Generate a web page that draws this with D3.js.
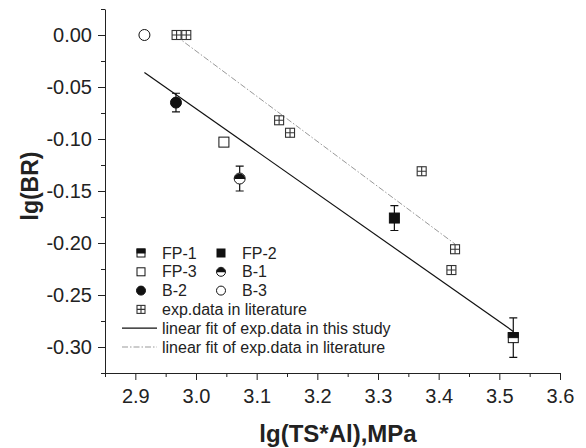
<!DOCTYPE html>
<html>
<head>
<meta charset="utf-8">
<script src="https://cdn.jsdelivr.net/npm/d3@7"></script>
<style>
  body { margin: 0; background: #fff; }
  text { font-family: "Liberation Sans", Arial, sans-serif; fill: #222; }
</style>
</head>
<body>
<div id="chart"></div>
<script>
// samples from this study
const sampleNames = ["FP-1", "FP-2", "FP-3", "B-1", "B-2", "B-3"];
const sampleX = [3.523, 3.327, 3.046, 3.072, 2.967, 2.915];
const sampleY = [-0.291, -0.176, -0.103, -0.138, -0.065, 0.000];
const sampleErr = [0.019, 0.012, 0, 0.012, 0.009, 0];
const sampleSymbol = ["halfSquare", "fillSquare", "openSquare", "halfCircle", "fillCircle", "openCircle"];

// exp. data in literature
const litX = [2.968, 2.984, 3.137, 3.155, 3.372, 3.427, 3.421];
const litY = [0.000, 0.000, -0.082, -0.094, -0.131, -0.206, -0.226];

// fitted lines (end points)
const fitStudyX = [2.915, 3.523];
const fitStudyY = [-0.036, -0.285];
const fitLitX = [2.967, 3.427];
const fitLitY = [-0.001, -0.201];

const xTicks = [2.9, 3.0, 3.1, 3.2, 3.3, 3.4, 3.5, 3.6];
const yTicks = [0, -0.05, -0.10, -0.15, -0.20, -0.25, -0.30];

const width = 586, height = 448;
const plot = { left: 105, right: 560, top: 9, bottom: 373 };

const svg = d3.select("#chart").append("svg")
    .attr("width", width).attr("height", height);

const x = d3.scaleLinear().domain([2.85, 3.6]).range([plot.left, plot.right]);
const y = d3.scaleLinear().domain([-0.325, 0.025]).range([plot.bottom, plot.top]);

// minor ticks
const xMinor = d3.range(2.85, 3.601, 0.05).filter(v => !xTicks.some(t => Math.abs(t - v) < 1e-6));
const yMinor = d3.range(-0.325, 0.026, 0.025).filter(v => !yTicks.some(t => Math.abs(t - v) < 1e-6));

svg.append("g")
    .attr("transform", `translate(0,${plot.bottom})`)
    .call(d3.axisBottom(x).tickValues(xMinor).tickSize(4).tickSizeOuter(0).tickFormat(""))
    .call(g => g.select(".domain").remove());
svg.append("g")
    .attr("transform", `translate(${plot.left},0)`)
    .call(d3.axisLeft(y).tickValues(yMinor).tickSize(4).tickSizeOuter(0).tickFormat(""))
    .call(g => g.select(".domain").remove());

const xAxis = svg.append("g")
    .attr("transform", `translate(0,${plot.bottom})`)
    .call(d3.axisBottom(x).tickValues(xTicks).tickSize(7).tickSizeOuter(0).tickPadding(9)
        .tickFormat(d3.format(".1f")));
const yAxis = svg.append("g")
    .attr("transform", `translate(${plot.left},0)`)
    .call(d3.axisLeft(y).tickValues(yTicks).tickSize(7).tickSizeOuter(0).tickPadding(6)
        .tickFormat(d => d3.format(".2f")(d).replace("−", "-")));

[xAxis, yAxis].forEach(a => {
  a.selectAll("text").style("font-size", "20px").style("font-family", "Liberation Sans, Arial, sans-serif").attr("fill", "#222");
  a.selectAll("line, path").attr("stroke", "#222");
});
svg.selectAll(".tick line").attr("stroke", "#222");

// axis titles
svg.append("text")
    .attr("x", 338).attr("y", 442)
    .attr("text-anchor", "middle")
    .style("font-size", "24px").style("font-weight", "bold")
    .text("lg(TS*Al),MPa");
svg.append("text")
    .attr("transform", "translate(38,186) rotate(-90)")
    .attr("text-anchor", "middle")
    .style("font-size", "23px").style("font-weight", "bold")
    .text("lg(BR)");

// fit lines
const line = d3.line().x(d => x(d[0])).y(d => y(d[1]));
svg.append("path")
    .attr("d", line(d3.zip(fitLitX, fitLitY)))
    .attr("fill", "none").attr("stroke", "#999").attr("stroke-width", 1)
    .attr("stroke-dasharray", "6,2,1.5,2");
svg.append("path")
    .attr("d", line(d3.zip(fitStudyX, fitStudyY)))
    .attr("fill", "none").attr("stroke", "#111").attr("stroke-width", 1.2);

// symbol drawing
function drawSymbol(g, type, s) {
  const h = s / 2;
  const ink = "#111";
  if (type === "litSquare") {
    g.append("rect").attr("x", -h).attr("y", -h).attr("width", s).attr("height", s)
        .attr("fill", "#fff").attr("stroke", "#333").attr("stroke-width", 1.1);
    g.append("path").attr("d", `M${-h},0H${h}M0,${-h}V${h}`).attr("stroke", "#333").attr("stroke-width", 1.1);
  } else if (type.endsWith("Square")) {
    g.append("rect").attr("x", -h).attr("y", -h).attr("width", s).attr("height", s)
        .attr("fill", type === "fillSquare" ? ink : "#fff").attr("stroke", ink).attr("stroke-width", 1);
    if (type === "halfSquare")
      g.append("rect").attr("x", -h).attr("y", -h).attr("width", s).attr("height", h)
          .attr("fill", ink).attr("stroke", ink).attr("stroke-width", 1);
  } else {
    const r = h + 0.5;
    g.append("circle").attr("r", r)
        .attr("fill", type === "fillCircle" ? ink : "#fff").attr("stroke", ink).attr("stroke-width", 1);
    if (type === "halfCircle")
      g.append("path").attr("d", `M${-r},0.5A${r},${r} 0 0 1 ${r},0.5Z`).attr("fill", ink);
  }
}

// literature points
litX.forEach((v, i) => {
  const g = svg.append("g").attr("transform", `translate(${x(v)},${y(litY[i])})`);
  drawSymbol(g, "litSquare", 9);
});

// sample points with error bars
sampleX.forEach((v, i) => {
  const cx = x(v), cy = y(sampleY[i]), e = sampleErr[i];
  if (e > 0) {
    const y1 = y(sampleY[i] + e), y2 = y(sampleY[i] - e);
    svg.append("path")
        .attr("d", `M${cx},${y1}V${y2}M${cx - 4},${y1}H${cx + 4}M${cx - 4},${y2}H${cx + 4}`)
        .attr("stroke", "#111").attr("stroke-width", 1.2).attr("fill", "none");
  }
  const g = svg.append("g").attr("transform", `translate(${cx},${cy})`);
  drawSymbol(g, sampleSymbol[i], 10);
});

// legend
const legend = svg.append("g").attr("transform", "translate(141,253)");
const rowH = 18.8;
const legFont = "16px";
sampleNames.forEach((name, i) => {
  const col = i % 2, row = Math.floor(i / 2);
  const g = legend.append("g").attr("transform", `translate(${col * 80},${row * rowH})`);
  drawSymbol(g, sampleSymbol[i], 8);
  g.append("text").attr("x", 21).attr("y", 5.5).style("font-size", legFont).text(name);
});
{
  const g = legend.append("g").attr("transform", `translate(0,${3 * rowH})`);
  drawSymbol(g, "litSquare", 8);
  g.append("text").attr("x", 21).attr("y", 5.5).style("font-size", legFont).text("exp.data in literature");
}
{
  const g = legend.append("g").attr("transform", `translate(0,${4 * rowH})`);
  g.append("line").attr("x1", -19).attr("x2", 16).attr("stroke", "#111").attr("stroke-width", 1.2);
  g.append("text").attr("x", 21).attr("y", 5.5).style("font-size", legFont).text("linear fit of exp.data in this study");
}
{
  const g = legend.append("g").attr("transform", `translate(0,${5 * rowH})`);
  g.append("line").attr("x1", -19).attr("x2", 16).attr("stroke", "#999").attr("stroke-width", 1)
      .attr("stroke-dasharray", "6,2,1.5,2");
  g.append("text").attr("x", 21).attr("y", 5.5).style("font-size", legFont).text("linear fit of exp.data in literature");
}
</script>
</body>
</html>
